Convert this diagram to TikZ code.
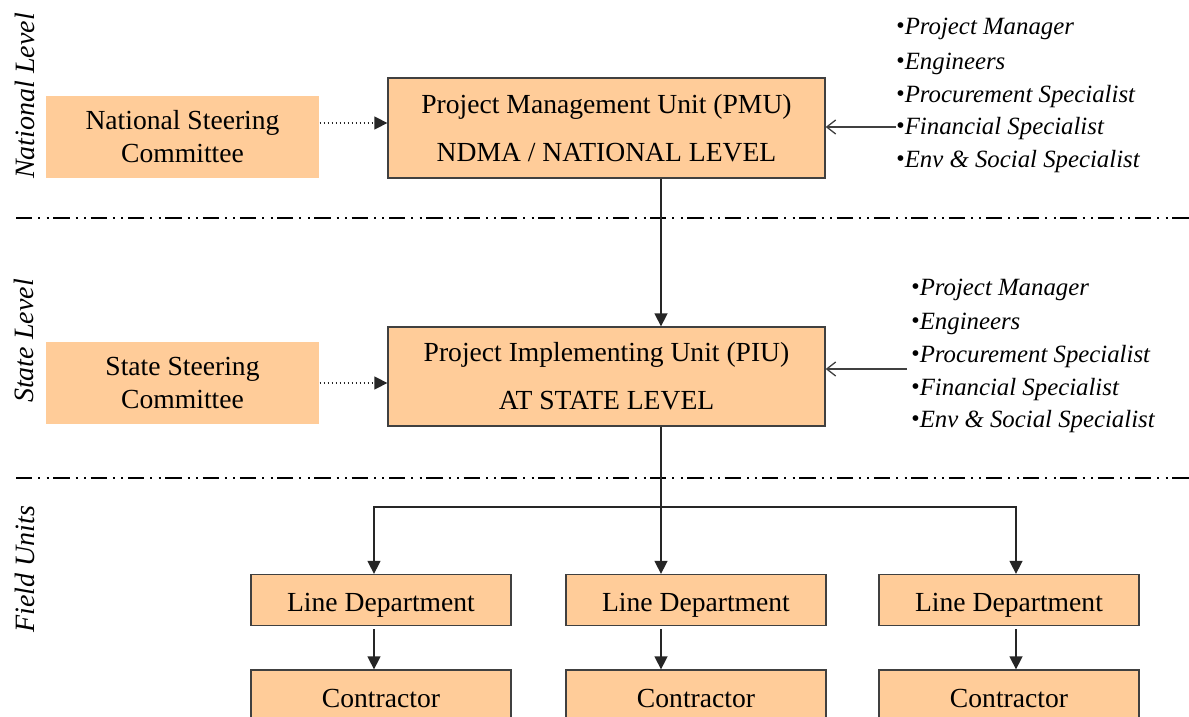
\documentclass[tikz,border=0pt]{standalone}
\usepackage{fontspec}
\setmainfont{Liberation Serif}
\usetikzlibrary{arrows.meta}
\definecolor{boxfill}{HTML}{FFCC99}
\definecolor{boxline}{HTML}{404040}
\newcommand\lbul{\raisebox{0.05em}{\fontsize{12pt}{12pt}\selectfont\upshape\char"2022}}
\tikzset{
  box/.style={draw=boxline, line width=0.65pt, fill=boxfill, inner sep=0pt, align=center,
              font=\fontsize{13.8pt}{16.5pt}\selectfont},
  plainbox/.style={box, draw=none},
  onebox/.style={box, text height=11pt, text depth=0pt},
  lvl/.style={rotate=90, inner sep=0pt, font=\fontsize{14pt}{16pt}\selectfont\itshape},
  item/.style={anchor=west, inner sep=0pt, font=\fontsize{12.4pt}{14pt}\selectfont\itshape},
  conn/.style={line width=0.75pt, draw=black!85, -{Triangle[length=6.5pt,width=6.5pt]}},
  dotconn/.style={conn, dash pattern=on 0.8pt off 1.2pt},
  listarrow/.style={line width=0.65pt, draw=boxline, -{Straight Barb[length=4.5pt,width=7pt]}},
  sepline/.style={line width=1.25pt, dash pattern=on 8.15pt off 3pt on 1pt off 3.2pt on 1pt off 2.3pt}
}
\begin{document}
\begin{tikzpicture}[x=0.5pt,y=-0.5pt]
\useasboundingbox (0,0) rectangle (1189,717);
\clip (0,0) rectangle (1189,717);

% separators
\draw[sepline] (16,218) -- (1189,218);
\draw[sepline] (16,478) -- (1189,478);

% level labels
\node[lvl] (lnat) at (25,96) {National Level};
\node[lvl] (lstate) at (24,341) {State Level};
\node[lvl] (lfield) at (25,569) {Field Units};

% boxes
\node[plainbox, minimum width=136.5pt, minimum height=41pt] (nsc) at (182.5,137) {National Steering\\Committee};
\node[box, minimum width=218.5pt, minimum height=50pt] (pmu) at (606.5,128) {Project Management Unit (PMU)\\[7.5pt]NDMA / NATIONAL LEVEL};
\node[plainbox, minimum width=136.5pt, minimum height=41pt] (ssc) at (182.5,383) {State Steering\\Committee};
\node[box, minimum width=218.5pt, minimum height=49.5pt] (piu) at (606.5,376.5) {Project Implementing Unit (PIU)\\[7.5pt]AT STATE LEVEL};

\node[onebox, minimum width=130pt, minimum height=25.5pt] (ld1) at (381,600) {Line Department};
\node[onebox, minimum width=130pt, minimum height=25.5pt] (ld2) at (696,600) {Line Department};
\node[onebox, minimum width=130pt, minimum height=25.5pt] (ld3) at (1009,600) {Line Department};
\node[box, minimum width=130pt, minimum height=28pt] (c1) at (381,698) {Contractor};
\node[box, minimum width=130pt, minimum height=28pt] (c2) at (696,698) {Contractor};
\node[box, minimum width=130pt, minimum height=28pt] (c3) at (1009,698) {Contractor};

% staff lists
\node[item] (a1) at (896,29) {\lbul Project Manager};
\node[item] (a2) at (896,64) {\lbul Engineers};
\node[item] (a3) at (896,97) {\lbul Procurement Specialist};
\node[item] (a4) at (896,129) {\lbul Financial Specialist};
\node[item] (a5) at (896,162) {\lbul Env \& Social Specialist};

\node[item] (b1) at (911,290) {\lbul Project Manager};
\node[item] (b2) at (911,324) {\lbul Engineers};
\node[item] (b3) at (911,357) {\lbul Procurement Specialist};
\node[item] (b4) at (911,390) {\lbul Financial Specialist};
\node[item] (b5) at (911,422) {\lbul Env \& Social Specialist};

% helper coordinates
\coordinate (dy) at (0,123);
\coordinate (vx) at (661,0);
\coordinate (jl) at (374,507);
\coordinate (jr) at (1016,507);
\coordinate (a0) at (896,127);
\coordinate (b0) at (907,369);

% connectors
\draw[dotconn] (nsc.east |- dy) -- (pmu.west |- dy);
\draw[dotconn] (ssc.east) -- (ssc.east -| piu.west);
\draw[listarrow] (a0) -- (a0 -| pmu.east);
\draw[listarrow] (b0) -- (b0 -| piu.east);

\draw[conn] (pmu.south -| vx) -- (piu.north -| vx);
\draw[conn] (piu.south -| vx) -- (ld2.north -| vx);
\draw[conn] (piu.south -| vx) |- (jl) -- (ld1.north -| jl);
\draw[conn] (piu.south -| vx) |- (jr) -- (ld3.north -| jr);

\draw[conn, shorten <=1.5pt] (ld1.south -| jl) -- (c1.north -| jl);
\draw[conn, shorten <=1.5pt] (ld2.south -| vx) -- (c2.north -| vx);
\draw[conn, shorten <=1.5pt] (ld3.south -| jr) -- (c3.north -| jr);
\end{tikzpicture}
\end{document}
